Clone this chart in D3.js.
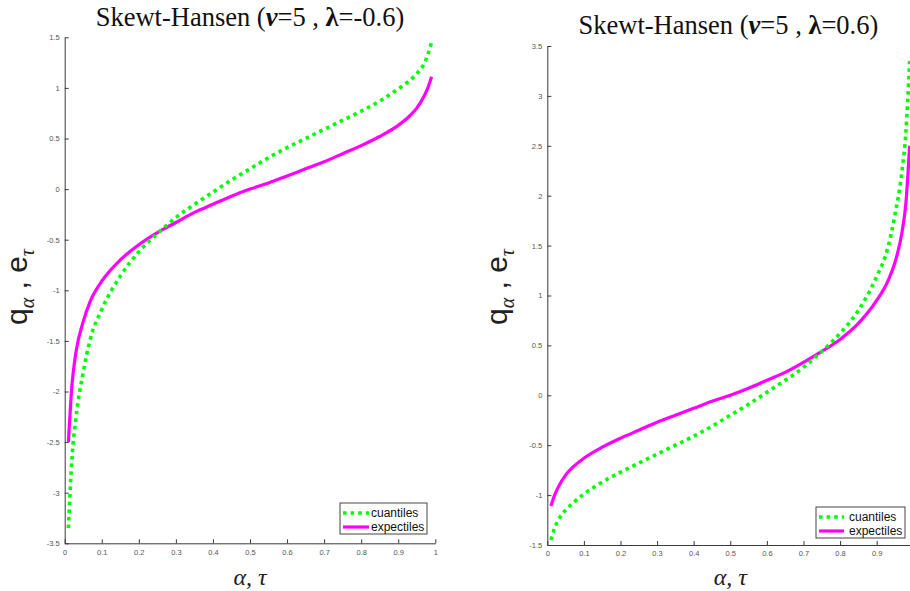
<!DOCTYPE html>
<html>
<head>
<meta charset="utf-8">
<script src="https://cdn.jsdelivr.net/npm/d3@7"></script>
<style>
    body { margin: 0; background: #fff; }
</style>
</head>
<body>
<div id="chart"></div>
<script>
//data
var alphaGrid = [0.01, 0.02, 0.03, 0.05, 0.07, 0.1, 0.15, 0.2, 0.25, 0.3, 0.35, 0.4, 0.45, 0.5,
    0.55, 0.6, 0.65, 0.7, 0.75, 0.8, 0.85, 0.9, 0.93, 0.95, 0.97, 0.98, 0.99];

//lambda = -0.6
var leftCuantiles = [-3.35, -2.64, -2.27, -1.81, -1.47, -1.19, -0.86, -0.62, -0.44, -0.28, -0.15, -0.03, 0.09, 0.20,
    0.31, 0.41, 0.50, 0.59, 0.68, 0.77, 0.87, 0.99, 1.07, 1.14, 1.24, 1.33, 1.45];
var leftExpectiles = [-2.50, -1.92, -1.62, -1.31, -1.10, -0.91, -0.70, -0.55, -0.43, -0.33, -0.23, -0.15, -0.07, 0.00,
    0.06, 0.13, 0.20, 0.27, 0.35, 0.43, 0.52, 0.63, 0.72, 0.80, 0.92, 1.00, 1.11];

//lambda = 0.6
var rightCuantiles = [-1.45, -1.33, -1.25, -1.15, -1.08, -0.99, -0.87, -0.77, -0.68, -0.59, -0.50, -0.41, -0.31, -0.20,
    -0.09, 0.03, 0.15, 0.28, 0.44, 0.62, 0.85, 1.19, 1.47, 1.81, 2.27, 2.64, 3.35];
var rightExpectiles = [-1.11, -1.00, -0.92, -0.80, -0.72, -0.63, -0.52, -0.43, -0.35, -0.27, -0.20, -0.13, -0.06, 0.00,
    0.07, 0.15, 0.23, 0.33, 0.44, 0.56, 0.72, 0.95, 1.14, 1.33, 1.65, 1.93, 2.50];

var legendLabels = ["cuantiles", "expectiles"];
var lambdaLabels = ["-0.6", "0.6"];

//Create Containers
var svgWidth = 910;
var svgHeight = 591;

var svg = d3.select("#chart")
    .append("svg")
    .attr("width", svgWidth)
    .attr("height", svgHeight);

var panels = [
    {
        lambda: lambdaLabels[0], q: leftCuantiles, e: leftExpectiles,
        xDomain: [0, 1], xRange: [64.7, 435.3],
        yDomain: [-3.5, 1.5], yRange: [543.3, 37.3],
        titleY: 26, ylabelX: 27,
        legend: { x: 340, y: 503, w: 87, h: 31, lineX0: 343, lineX1: 369, textX: 371 }
    },
    {
        lambda: lambdaLabels[1], q: rightCuantiles, e: rightExpectiles,
        xDomain: [0, 0.99], xRange: [547.3, 909.6],
        yDomain: [-1.5, 3.5], yRange: [545, 46],
        titleY: 34, ylabelX: 507,
        legend: { x: 816, y: 507, w: 89, h: 31, lineX0: 819, lineX1: 844, textX: 849 }
    }
];

panels.forEach(function (p) {

    var x = d3.scaleLinear().domain(p.xDomain).range(p.xRange);
    var y = d3.scaleLinear().domain(p.yDomain).range(p.yRange);

    //axes (ticks inward, no box)
    var xAxis = d3.axisBottom(x)
        .tickValues(x.ticks(10))
        .tickSize(-4)
        .tickSizeOuter(0)
        .tickPadding(6)
        .tickFormat(d => String(d));

    var yAxis = d3.axisLeft(y)
        .tickValues(y.ticks(10))
        .tickSize(-4)
        .tickSizeOuter(0)
        .tickPadding(5)
        .tickFormat(d => String(d));

    var gx = svg.append("g")
        .attr("transform", `translate(0, ${p.yRange[0]})`)
        .call(xAxis);

    var gy = svg.append("g")
        .attr("transform", `translate(${p.xRange[0]}, 0)`)
        .call(yAxis);

    [gx, gy].forEach(function (g) {
        g.select(".domain").attr("stroke", "#3a3a3a");
        g.selectAll(".tick line").attr("stroke", "#3a3a3a");
        g.selectAll(".tick text")
            .attr("fill", "#555")
            .style("font-family", "Liberation Sans, Arial, sans-serif")
            .style("font-size", "7.5px");
    });

    //curves
    var line = d3.line()
        .x((d, i) => x(alphaGrid[i]))
        .y(d => y(d))
        .curve(d3.curveMonotoneX);

    svg.append("path")
        .datum(p.e)
        .attr("d", line)
        .attr("fill", "none")
        .attr("stroke", "#ff00ff")
        .attr("stroke-width", 3.2);

    svg.append("path")
        .datum(p.q)
        .attr("d", line)
        .attr("fill", "none")
        .attr("stroke", "#00ff00")
        .attr("stroke-width", 3.6)
        .attr("stroke-dasharray", "3.6,4");

    //title
    var title = svg.append("text")
        .attr("x", (p.xRange[0] + p.xRange[1]) / 2)
        .attr("y", p.titleY)
        .attr("text-anchor", "middle")
        .style("font-family", "Liberation Serif, serif")
        .style("font-size", "26.5px")
        .attr("fill", "#111");
    title.append("tspan").text("Skewt-Hansen (");
    title.append("tspan").attr("font-style", "italic").attr("font-weight", "bold").text("\u03bd");
    title.append("tspan").text("=5 , ");
    title.append("tspan").attr("font-weight", "bold").text("\u03bb");
    title.append("tspan").text("=" + p.lambda + ")");

    //x label
    svg.append("text")
        .attr("x", x(0.5))
        .attr("y", 585)
        .attr("text-anchor", "middle")
        .style("font-family", "Liberation Serif, serif")
        .style("font-style", "italic")
        .style("font-size", "24px")
        .attr("fill", "#222")
        .text("\u03b1, \u03c4");

    //y label
    var yl = svg.append("text")
        .attr("transform", `translate(${p.ylabelX}, 287) rotate(-90)`)
        .attr("text-anchor", "middle")
        .style("font-family", "Liberation Sans, Arial, sans-serif")
        .style("font-size", "30px")
        .style("white-space", "pre")
        .attr("fill", "#222");
    yl.append("tspan").text("q");
    yl.append("tspan").attr("dy", 7).style("font-family", "Liberation Serif, serif")
        .style("font-style", "italic").style("font-size", "20px").text("\u03b1");
    yl.append("tspan").attr("dy", -7).text(" , e");
    yl.append("tspan").attr("dy", 7).style("font-family", "Liberation Serif, serif")
        .style("font-style", "italic").style("font-size", "20px").text("\u03c4");

    //legend
    var L = p.legend;
    svg.append("rect")
        .attr("x", L.x).attr("y", L.y)
        .attr("width", L.w).attr("height", L.h)
        .attr("fill", "#fff")
        .attr("stroke", "#444")
        .attr("stroke-width", 1);

    var rows = [
        { label: legendLabels[0], color: "#00ff00", dash: "3.6,4", w: 3.6 },
        { label: legendLabels[1], color: "#ff00ff", dash: null, w: 3.2 }
    ];

    rows.forEach(function (r, i) {
        var ry = L.y + 10 + i * 14;
        svg.append("line")
            .attr("x1", L.lineX0).attr("x2", L.lineX1)
            .attr("y1", ry).attr("y2", ry)
            .attr("stroke", r.color)
            .attr("stroke-width", r.w)
            .attr("stroke-dasharray", r.dash);
        svg.append("text")
            .attr("x", L.textX)
            .attr("y", ry + 4)
            .style("font-family", "Liberation Sans, Arial, sans-serif")
            .style("font-size", "12px")
            .attr("fill", "#111")
            .text(r.label);
    });
});
</script>
</body>
</html>
